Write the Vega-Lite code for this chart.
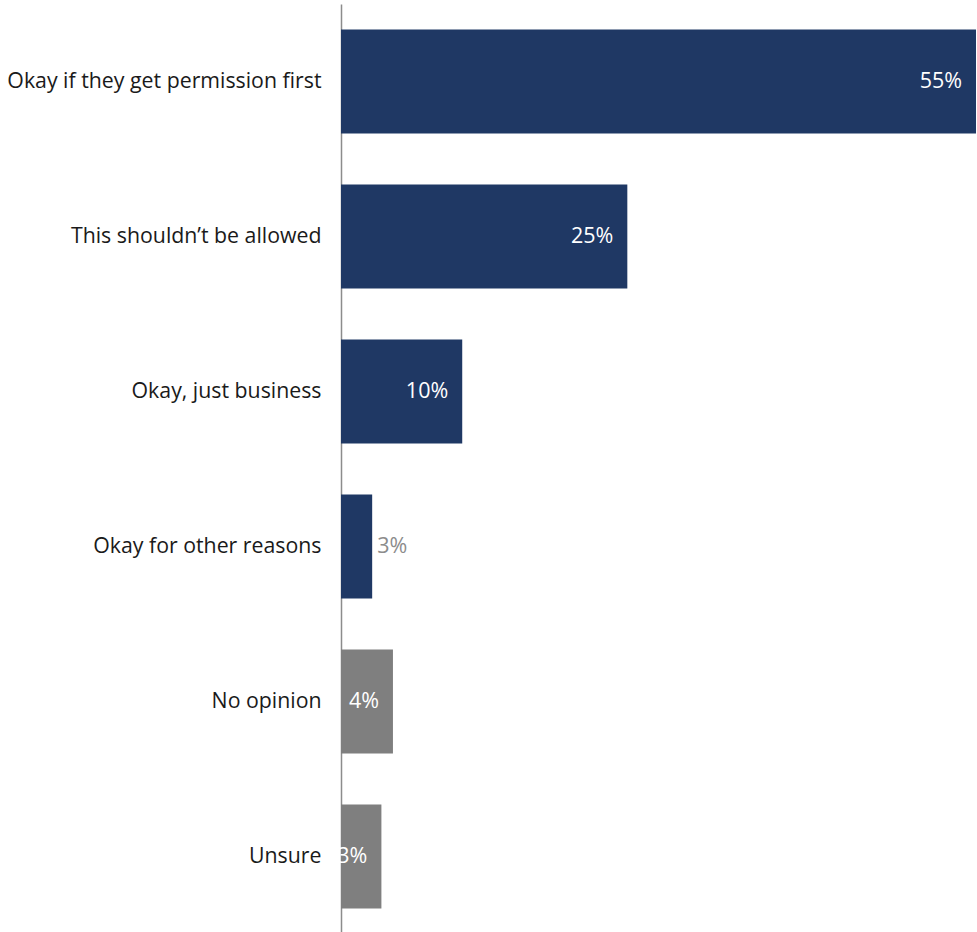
{
  "$schema": "https://vega.github.io/schema/vega-lite/v6.json",
  "width": 635,
  "height": 930,
  "autosize": "none",
  "padding": {"left": 341, "top": 4, "right": 1, "bottom": 0},
  "background": "white",
  "config": {"view": {"stroke": null}, "font": "Open Sans"},
  "data": {
    "values": [
      {"answer": "Okay if they get permission first", "value": 55, "pct": "55%", "group": "Opinion"},
      {"answer": "This shouldn’t be allowed", "value": 24.8, "pct": "25%", "group": "Opinion"},
      {"answer": "Okay, just business", "value": 10.5, "pct": "10%", "group": "Opinion"},
      {"answer": "Okay for other reasons", "value": 2.7, "pct": "3%", "group": "Opinion"},
      {"answer": "No opinion", "value": 4.5, "pct": "4%", "group": "No view"},
      {"answer": "Unsure", "value": 3.5, "pct": "3%", "group": "No view"}
    ]
  },
  "encoding": {
    "y": {
      "field": "answer",
      "type": "nominal",
      "sort": null,
      "scale": {"paddingInner": 0.33, "paddingOuter": 0.165},
      "axis": {
        "title": null,
        "ticks": false,
        "labelFontSize": 21.3,
        "labelColor": "#1a1a1a",
        "labelPadding": 20,
        "labelLimit": 400,
        "labelFont": "Open Sans",
        "domainColor": "#8c8c8c",
        "domainWidth": 1.5
      }
    },
    "x": {
      "field": "value",
      "type": "quantitative",
      "scale": {"domain": [0, 55], "nice": false},
      "axis": null
    }
  },
  "layer": [
    {
      "mark": {"type": "bar"},
      "encoding": {
        "color": {
          "field": "group",
          "type": "nominal",
          "scale": {"domain": ["Opinion", "No view"], "range": ["#1F3864", "#7F7F7F"]},
          "legend": null
        }
      }
    },
    {
      "transform": [{"filter": "datum.value >= 3"}],
      "mark": {"type": "text", "align": "right", "baseline": "middle", "dx": -14, "fontSize": 21.5, "color": "white", "font": "Open Sans"},
      "encoding": {"text": {"field": "pct"}}
    },
    {
      "transform": [{"filter": "datum.value < 3"}],
      "mark": {"type": "text", "align": "left", "baseline": "middle", "dx": 5, "fontSize": 21.5, "color": "#8c8c8c", "font": "Open Sans"},
      "encoding": {"text": {"field": "pct"}}
    }
  ]
}
